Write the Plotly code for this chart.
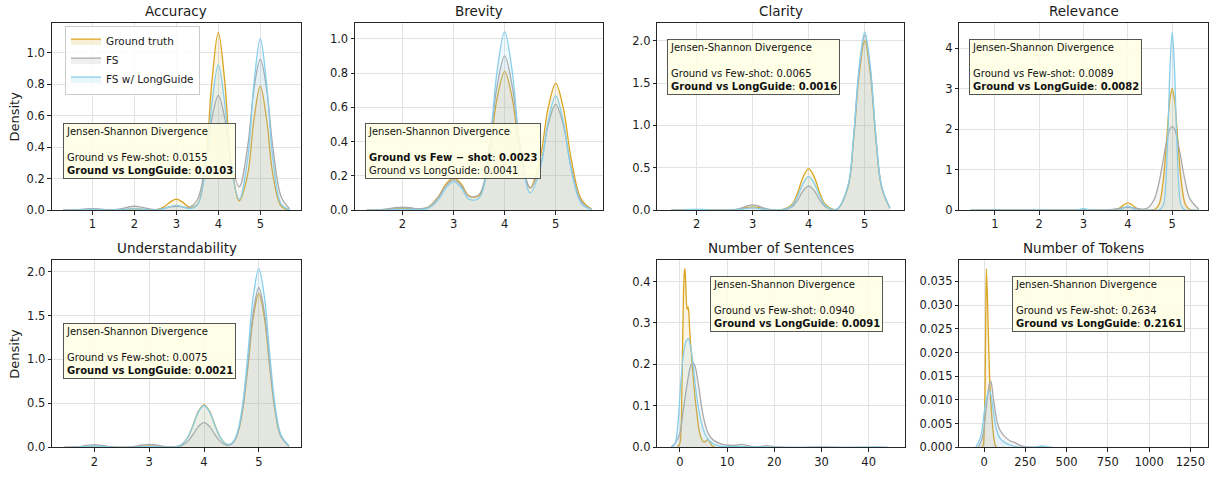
import plotly.graph_objects as go

W, H = 1213, 477
FONT = "DejaVu Sans"
SERIES = ["Ground truth", "FS", "FS w/ LongGuide"]
LINE_COLORS = ["#DAA520", "#A9A9A9", "#87CEEB"]
FILL_COLORS = ["rgba(218,165,32,0.12)", "rgba(169,169,169,0.12)", "rgba(135,206,235,0.12)"]
LEGEND_FILLS = ["rgba(218,165,32,0.18)", "rgba(169,169,169,0.18)", "rgba(135,206,235,0.18)"]

# ---------------- data (density values) ----------------
acc_x = [0.3, 0.5, 0.7, 0.85, 1.0, 1.15, 1.3, 1.5, 1.7, 1.85, 2.0, 2.15, 2.3, 2.5, 2.7, 2.85, 3.0,
         3.15, 3.3, 3.5, 3.7, 3.85, 4.0, 4.15, 4.3, 4.5, 4.7, 4.85, 5.0, 5.15, 5.3, 5.5, 5.7]
acc_gt = [0.000, 0.000, 0.001, 0.004, 0.005, 0.004, 0.002, 0.001, 0.002, 0.006, 0.008, 0.006, 0.002,
          0.002, 0.020, 0.051, 0.070, 0.051, 0.021, 0.037, 0.324, 0.827, 1.130, 0.827, 0.325, 0.060,
          0.228, 0.578, 0.790, 0.578, 0.227, 0.025, 0.001]
acc_fs = [0.000, 0.001, 0.004, 0.008, 0.010, 0.008, 0.004, 0.003, 0.010, 0.020, 0.025, 0.020, 0.011,
          0.004, 0.011, 0.021, 0.025, 0.021, 0.017, 0.066, 0.305, 0.587, 0.730, 0.588, 0.313, 0.149,
          0.406, 0.772, 0.960, 0.772, 0.400, 0.084, 0.008]
acc_lg = [0.000, 0.000, 0.0015, 0.004, 0.005, 0.004, 0.0015, 0.001, 0.003, 0.007, 0.010, 0.007, 0.003,
          0.001, 0.009, 0.022, 0.030, 0.022, 0.010, 0.033, 0.277, 0.684, 0.925, 0.684, 0.278, 0.070,
          0.327, 0.806, 1.090, 0.806, 0.326, 0.038, 0.0015]

brev_x = [1.3, 1.5, 1.7, 1.85, 2.0, 2.15, 2.3, 2.5, 2.7, 2.85, 3.0, 3.15, 3.3, 3.5, 3.7, 3.85, 4.0,
          4.15, 4.3, 4.5, 4.7, 4.85, 5.0, 5.15, 5.3, 5.5, 5.7]
brev_gt = [0.000, 0.001, 0.004, 0.008, 0.010, 0.008, 0.006, 0.017, 0.078, 0.152, 0.190, 0.153, 0.084,
           0.085, 0.334, 0.649, 0.810, 0.650, 0.339, 0.132, 0.311, 0.594, 0.740, 0.593, 0.304, 0.063, 0.006]
brev_fs = [0.000, 0.001, 0.007, 0.014, 0.017, 0.014, 0.008, 0.017, 0.073, 0.143, 0.178, 0.144, 0.080,
           0.092, 0.371, 0.721, 0.900, 0.721, 0.375, 0.129, 0.261, 0.494, 0.617, 0.494, 0.254, 0.052, 0.005]
brev_lg = [0.000, 0.000, 0.002, 0.005, 0.006, 0.005, 0.003, 0.010, 0.060, 0.129, 0.167, 0.130, 0.064,
           0.071, 0.375, 0.806, 1.040, 0.806, 0.377, 0.101, 0.244, 0.517, 0.667, 0.517, 0.240, 0.039, 0.003]

cla_x = [1.55, 1.7, 1.8, 1.9, 2.0, 2.1, 2.2, 2.3, 2.5, 2.7, 2.8, 2.9, 3.0, 3.1, 3.2, 3.3, 3.5, 3.7,
         3.8, 3.9, 4.0, 4.1, 4.2, 4.3, 4.5, 4.7, 4.8, 4.9, 5.0, 5.1, 5.2, 5.3, 5.45]
cla_gt = [0.000, 0.001, 0.002, 0.004, 0.005, 0.004, 0.002, 0.001, 0.000, 0.005, 0.016, 0.032, 0.040,
          0.032, 0.016, 0.005, 0.002, 0.066, 0.201, 0.392, 0.490, 0.392, 0.201, 0.066, 0.010, 0.270,
          0.822, 1.602, 2.000, 1.602, 0.822, 0.270, 0.022]
cla_fs = [0.000, 0.001, 0.002, 0.004, 0.005, 0.004, 0.002, 0.001, 0.000, 0.008, 0.025, 0.050, 0.062,
          0.050, 0.025, 0.008, 0.001, 0.038, 0.116, 0.227, 0.283, 0.227, 0.116, 0.038, 0.009, 0.279,
          0.851, 1.658, 2.070, 1.658, 0.851, 0.279, 0.023]
cla_lg = [0.000, 0.001, 0.004, 0.008, 0.010, 0.008, 0.004, 0.001, 0.000, 0.004, 0.011, 0.022, 0.027,
          0.022, 0.011, 0.004, 0.002, 0.053, 0.162, 0.316, 0.395, 0.316, 0.162, 0.053, 0.010, 0.284,
          0.865, 1.686, 2.105, 1.686, 0.865, 0.284, 0.023]

rel_x = [0.45, 0.7, 0.85, 1.0, 1.15, 1.3, 1.5, 1.7, 1.85, 2.0, 2.15, 2.3, 2.5, 2.7, 2.85, 3.0, 3.15,
         3.3, 3.5, 3.7, 3.8, 3.9, 4.0, 4.1, 4.2, 4.3, 4.45, 4.6, 4.7, 4.8, 4.85, 4.9, 4.95, 5.0, 5.05,
         5.1, 5.15, 5.2, 5.3, 5.4, 5.6]
rel_gt = [0.000, 0.000, 0.005, 0.010, 0.005, 0.000, 0.000, 0.000, 0.002, 0.005, 0.002, 0.000, 0.000,
          0.000, 0.002, 0.005, 0.002, 0.000, 0.000, 0.008, 0.044, 0.126, 0.178, 0.126, 0.044, 0.008,
          0.000, 0.012, 0.132, 0.747, 1.374, 2.121, 2.751, 3.000, 2.751, 2.121, 1.374, 0.747, 0.132,
          0.012, 0.000]
rel_fs = [0.000, 0.002, 0.004, 0.005, 0.004, 0.002, 0.001, 0.003, 0.006, 0.008, 0.006, 0.003, 0.001,
          0.003, 0.006, 0.008, 0.006, 0.003, 0.003, 0.023, 0.043, 0.062, 0.070, 0.062, 0.043, 0.027,
          0.053, 0.280, 0.673, 1.256, 1.563, 1.826, 2.006, 2.070, 2.006, 1.826, 1.563, 1.256, 0.673,
          0.279, 0.023]
rel_lg = [0.000, 0.000, 0.001, 0.005, 0.001, 0.000, 0.000, 0.000, 0.001, 0.005, 0.001, 0.000, 0.000,
          0.000, 0.005, 0.040, 0.005, 0.000, 0.000, 0.000, 0.003, 0.043, 0.105, 0.043, 0.003, 0.000,
          0.000, 0.000, 0.001, 0.126, 0.594, 1.808, 3.524, 4.400, 3.524, 1.808, 0.594, 0.126, 0.001,
          0.000, 0.000]

und_x = [1.45, 1.7, 1.85, 2.0, 2.15, 2.3, 2.5, 2.7, 2.85, 3.0, 3.15, 3.3, 3.5, 3.6, 3.7, 3.8, 3.9,
         4.0, 4.1, 4.2, 4.3, 4.4, 4.5, 4.6, 4.7, 4.8, 4.9, 5.0, 5.1, 5.2, 5.3, 5.4, 5.55]
und_gt = [0.000, 0.002, 0.007, 0.010, 0.007, 0.002, 0.000, 0.003, 0.010, 0.015, 0.010, 0.003, 0.008,
          0.036, 0.112, 0.253, 0.413, 0.487, 0.413, 0.253, 0.112, 0.041, 0.038, 0.130, 0.402, 0.909,
          1.485, 1.749, 1.485, 0.909, 0.402, 0.128, 0.013]
und_fs = [0.000, 0.007, 0.021, 0.030, 0.021, 0.007, 0.001, 0.008, 0.024, 0.034, 0.024, 0.008, 0.005,
          0.021, 0.065, 0.146, 0.239, 0.281, 0.239, 0.146, 0.065, 0.026, 0.035, 0.134, 0.418, 0.944,
          1.542, 1.816, 1.542, 0.944, 0.418, 0.133, 0.013]
und_lg = [0.000, 0.003, 0.010, 0.015, 0.010, 0.003, 0.000, 0.002, 0.007, 0.010, 0.007, 0.002, 0.008,
          0.035, 0.109, 0.248, 0.404, 0.476, 0.404, 0.248, 0.110, 0.041, 0.042, 0.150, 0.467, 1.056,
          1.723, 2.030, 1.723, 1.056, 0.467, 0.149, 0.015]

sent_gt_x = [-0.6, 0.0, 0.25, 0.5, 0.75, 0.95, 1.06, 1.2, 1.4, 1.55, 1.75, 1.9, 2.1, 2.4, 2.8, 3.2,
             3.6, 4.0, 4.5, 5.0, 5.5, 5.9, 6.3, 6.8, 7.5]
sent_gt_y = [0.0, 0.01, 0.05, 0.2, 0.37, 0.425, 0.431, 0.40, 0.345, 0.333, 0.338, 0.32, 0.275, 0.23,
             0.17, 0.12, 0.08, 0.045, 0.022, 0.013, 0.015, 0.019, 0.013, 0.004, 0.0]
sent_fs_x = [-1.9, -1.0, 0.0, 0.7, 1.4, 2.1, 2.65, 3.2, 3.9, 4.6, 5.3, 6.0, 7.0, 8.8, 10.5, 12.0,
             13.0, 14.5, 16.0, 18.4, 20.5, 25.0, 30.0, 35.0, 40.0, 44.0]
sent_fs_y = [0.0, 0.01, 0.035, 0.089, 0.144, 0.19, 0.205, 0.196, 0.152, 0.097, 0.057, 0.033, 0.018,
             0.008, 0.005, 0.005, 0.007, 0.004, 0.001, 0.004, 0.001, 0.0, 0.001, 0.0, 0.0, 0.0]
sent_lg_x = [-1.8, -1.0, -0.4, 0.2, 0.7, 1.2, 1.77, 2.3, 2.8, 3.3, 3.9, 4.6, 5.3, 6.0, 7.0, 8.5,
             10.0, 12.0, 13.0, 15.0, 18.0, 22.0, 28.0, 35.0, 41.5, 44.0]
sent_lg_y = [0.0, 0.01, 0.06, 0.16, 0.222, 0.253, 0.263, 0.24, 0.2, 0.145, 0.097, 0.057, 0.033,
             0.019, 0.009, 0.003, 0.002, 0.002, 0.002, 0.001, 0.001, 0.0, 0.0, 0.0, 0.001, 0.0]

tok_gt_x = [-15, -5, -2, 2, 5, 8, 11, 14, 20, 24, 30, 38, 46, 56, 67, 75]
tok_gt_y = [0.0, 0.0005, 0.0015, 0.005, 0.010, 0.019, 0.030, 0.0377, 0.032, 0.0265, 0.0189, 0.0112,
            0.0071, 0.0029, 0.0005, 0.0]
tok_fs_x = [-35, -15, 0, 6, 20, 32, 42, 56, 77, 97, 127, 157, 188, 218, 250, 300, 350, 400]
tok_fs_y = [0.0, 0.0015, 0.0040, 0.0060, 0.0105, 0.0133, 0.0139, 0.0105, 0.0057, 0.0036, 0.0022,
            0.0014, 0.0010, 0.0004, 0.0001, 0.0, 0.0001, 0.0]
tok_lg_x = [-50, -28, -12, 0, 12, 26, 35, 48, 61, 77, 97, 127, 157, 200, 260, 320, 350, 380, 420]
tok_lg_y = [0.0, 0.0015, 0.0036, 0.0071, 0.0098, 0.0116, 0.0119, 0.0098, 0.0064, 0.0036, 0.0019,
            0.0010, 0.0005, 0.0001, 0.0, 0.0001, 0.0003, 0.0001, 0.0]

js_few = ["0.0155", "0.0023", "0.0065", "0.0089", "0.0075", "0.0940", "0.2634"]
js_long = ["0.0103", "0.0041", "0.0016", "0.0082", "0.0021", "0.0091", "0.2161"]
best = ["long", "few", "long", "long", "long", "long", "long"]

# ---------------- layout of the panels (pixel boxes) ----------------
panels = [
    dict(title="Accuracy", data=[(acc_x, acc_gt), (acc_x, acc_fs), (acc_x, acc_lg)],
         box=(51.7, 23.3, 301, 213.3), xr=[0.03, 5.97], yr=[0, 1.19],
         xtick=dict(tickvals=[1, 2, 3, 4, 5]), ytick=dict(tick0=0, dtick=0.2, tickformat=".1f"),
         note=(62.7, 125), ylabel=True, smooth=1.0),
    dict(title="Brevity", data=[(brev_x, brev_gt), (brev_x, brev_fs), (brev_x, brev_lg)],
         box=(355, 23.3, 602.7, 213.3), xr=[1.07, 5.92], yr=[0, 1.092],
         xtick=dict(tickvals=[2, 3, 4, 5]), ytick=dict(tick0=0, dtick=0.2, tickformat=".1f"),
         note=(365, 125), ylabel=False, smooth=1.0),
    dict(title="Clarity", data=[(cla_x, cla_gt), (cla_x, cla_fs), (cla_x, cla_lg)],
         box=(657.3, 23.3, 904, 213.3), xr=[1.30, 5.70], yr=[0, 2.21],
         xtick=dict(tickvals=[2, 3, 4, 5]), ytick=dict(tick0=0, dtick=0.5, tickformat=".1f"),
         note=(667.3, 39.3), ylabel=False, smooth=1.0),
    dict(title="Relevance", data=[(rel_x, rel_gt), (rel_x, rel_fs), (rel_x, rel_lg)],
         box=(959.3, 23.3, 1207.7, 213.3), xr=[0.2, 5.8], yr=[0, 4.62],
         xtick=dict(tickvals=[1, 2, 3, 4, 5]), ytick=dict(tick0=0, dtick=1, tickformat="d"),
         note=(969.3, 39.3), ylabel=False, smooth=1.0),
    dict(title="Understandability", data=[(und_x, und_gt), (und_x, und_fs), (und_x, und_lg)],
         box=(52.2, 264, 301, 454), xr=[1.23, 5.77], yr=[0, 2.13],
         xtick=dict(tickvals=[2, 3, 4, 5]), ytick=dict(tick0=0, dtick=0.5, tickformat=".1f"),
         note=(62.7, 328.3), ylabel=True, smooth=1.0),
    dict(title="Number of Sentences",
         data=[(sent_gt_x, sent_gt_y), (sent_fs_x, sent_fs_y), (sent_lg_x, sent_lg_y)],
         box=(657.3, 264, 905, 454), xr=[-4.8, 47.7], yr=[0, 0.4516],
         xtick=dict(tick0=0, dtick=10), ytick=dict(tick0=0, dtick=0.1, tickformat=".1f"),
         note=(710, 280), ylabel=False, smooth=0.7),
    dict(title="Number of Tokens",
         data=[(tok_gt_x, tok_gt_y), (tok_fs_x, tok_fs_y), (tok_lg_x, tok_lg_y)],
         box=(959.3, 264, 1207.7, 454), xr=[-150, 1355], yr=[0, 0.0395],
         xtick=dict(tick0=0, dtick=250), ytick=dict(tick0=0, dtick=0.005, tickformat=".3f"),
         note=(1011.7, 280), ylabel=False, smooth=0.6),
]

fig = go.Figure()
layout = dict(
    width=W, height=H, margin=dict(l=0, r=0, t=0, b=0),
    paper_bgcolor="white", plot_bgcolor="white",
    font=dict(family=FONT, size=11.5, color="#1a1a1a"),
    showlegend=True,
    legend=dict(x=65 / W, y=1 - 26 / H, xanchor="left", yanchor="top",
                bgcolor="rgba(255,255,255,0.85)", bordercolor="#cccccc", borderwidth=1,
                font=dict(family=FONT, size=10.5, color="#1a1a1a"), tracegroupgap=0,
                itemwidth=30),
)
annotations = []

for i, p in enumerate(panels, start=1):
    x0, y0, x1, y1 = p["box"]
    xd = [x0 / W, x1 / W]
    yd = [1 - y1 / H, 1 - y0 / H]
    xname = "xaxis" if i == 1 else f"xaxis{i}"
    yname = "yaxis" if i == 1 else f"yaxis{i}"
    xref = "x" if i == 1 else f"x{i}"
    yref = "y" if i == 1 else f"y{i}"
    common = dict(showline=True, mirror=True, linecolor="#262626", linewidth=1,
                  showgrid=True, gridcolor="#e2e2e2", gridwidth=1, zeroline=False,
                  ticks="outside", ticklen=3.5, tickwidth=1, tickcolor="#262626",
                  tickfont=dict(family=FONT, size=11.5, color="#1a1a1a"))
    layout[xname] = dict(domain=xd, range=p["xr"], anchor=yref, **common, **p["xtick"])
    layout[yname] = dict(domain=yd, range=p["yr"], anchor=xref, **common, **p["ytick"])

    for k, (xs, ys) in enumerate(p["data"]):
        fig.add_trace(go.Scatter(
            x=xs, y=ys, xaxis=xref, yaxis=yref, mode="lines",
            line=dict(color=LINE_COLORS[k], width=1.3, shape="spline", smoothing=p["smooth"]),
            fill="tozeroy", fillcolor=FILL_COLORS[k],
            name=SERIES[k], legendgroup=SERIES[k], showlegend=False,
            hoverinfo="skip"))

    # panel title
    annotations.append(dict(text=p["title"], x=(xd[0] + xd[1]) / 2, y=yd[1], xref="paper",
                            yref="paper", xanchor="center", yanchor="bottom", yshift=2,
                            showarrow=False, font=dict(family=FONT, size=13.5, color="#1a1a1a")))
    if p["ylabel"]:
        annotations.append(dict(text="Density", x=15 / W, y=(yd[0] + yd[1]) / 2, xref="paper",
                                yref="paper", xanchor="center", yanchor="middle", textangle=-90,
                                showarrow=False, font=dict(family=FONT, size=13, color="#1a1a1a")))

    # Jensen-Shannon box
    j = i - 1
    if best[j] == "few":
        few_line = f"<b>Ground vs Few \u2212 shot</b>: <b>{js_few[j]}</b>"
        long_line = f"Ground vs LongGuide: {js_long[j]}"
    else:
        few_line = f"Ground vs Few-shot: {js_few[j]}"
        long_line = f"<b>Ground vs LongGuide</b>: <b>{js_long[j]}</b>"
    nx, ny = p["note"]
    annotations.append(dict(
        text="Jensen-Shannon Divergence<br> <br>" + few_line + "<br>" + long_line,
        x=(nx - x0) / (x1 - x0), y=(y1 - ny) / (y1 - y0),
        xref=f"{xref} domain", yref=f"{yref} domain", xanchor="left", yanchor="top",
        align="left", showarrow=False, bgcolor="rgba(255,255,228,0.88)",
        bordercolor="#555555", borderwidth=1, borderpad=2,
        font=dict(family=FONT, size=10, color="#111111")))

# legend-only patch entries (filled boxes like the reference legend)
for k in range(3):
    fig.add_trace(go.Scatter(
        x=[None], y=[None], xaxis="x", yaxis="y", mode="lines",
        line=dict(color=LINE_COLORS[k], width=1.3), fill="toself", fillcolor=LEGEND_FILLS[k],
        name=SERIES[k], legendgroup=SERIES[k], showlegend=True, hoverinfo="skip"))

layout["annotations"] = annotations
fig.update_layout(**layout)
fig.write_html("out.html", config={"displayModeBar": False},
               post_script="document.body.style.margin='0';document.body.style.overflow='hidden';")
